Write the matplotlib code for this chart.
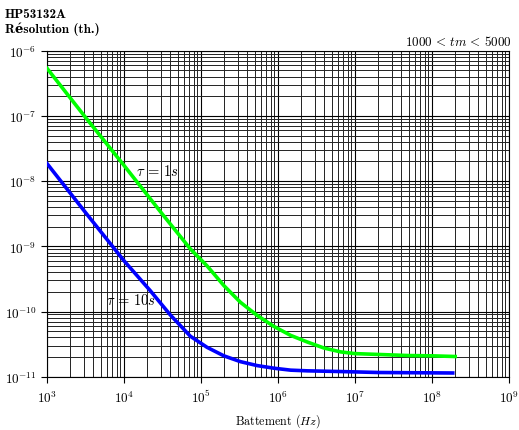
import matplotlib
matplotlib.use("Agg")
import matplotlib.pyplot as plt
import numpy as np
from matplotlib.ticker import LogLocator, NullFormatter

plt.rcParams['mathtext.fontset'] = 'cm'
plt.rcParams['font.family'] = ['cmr10', 'DejaVu Serif']
plt.rcParams['axes.formatter.use_mathtext'] = True

# values (Hz, resolution)
freq_1s = [1e3, 3160, 1e4, 31600, 72800, 120000, 198000, 326000, 537000,
           885000, 1.46e6, 2.41e6, 3.96e6, 6.53e6, 1e7, 2.1e7, 5e7, 1e8, 2e8]
res_1s = [5.37e-7, 9.5e-8, 1.74e-8, 3.1e-9, 9.1e-10, 5.0e-10, 2.5e-10, 1.38e-10,
          8.7e-11, 5.9e-11, 4.3e-11, 3.4e-11, 2.75e-11, 2.4e-11, 2.26e-11,
          2.19e-11, 2.11e-11, 2.09e-11, 2.04e-11]

freq_10s = [1e3, 3160, 1e4, 21900, 39800, 72800, 120000, 198000, 326000,
            537000, 885000, 1.46e6, 2.41e6, 6.53e6, 2e7, 1.86e8]
res_10s = [1.86e-8, 3.3e-9, 6.0e-10, 2.09e-10, 8.9e-11, 4.17e-11, 2.82e-11,
           2.09e-11, 1.70e-11, 1.48e-11, 1.35e-11, 1.26e-11, 1.23e-11, 1.20e-11,
           1.16e-11, 1.14e-11]

fig = plt.figure(figsize=(5.19, 4.31), dpi=100)
ax = fig.add_axes([47 / 519, 1 - 377.7 / 431, 462 / 519, 326 / 431])

ax.set_xscale('log')
ax.set_yscale('log')
ax.set_xlim(1e3, 1e9)
ax.set_ylim(1e-11, 1e-6)

ax.xaxis.set_major_locator(LogLocator(base=10, numticks=20))
ax.yaxis.set_major_locator(LogLocator(base=10, numticks=20))
ax.xaxis.set_minor_locator(LogLocator(base=10, subs=np.arange(2, 10), numticks=20))
ax.yaxis.set_minor_locator(LogLocator(base=10, subs=np.arange(2, 10), numticks=20))
ax.xaxis.set_minor_formatter(NullFormatter())
ax.yaxis.set_minor_formatter(NullFormatter())

ax.grid(True, which='major', color='black', lw=0.8)
ax.grid(True, which='minor', color='#222222', lw=0.7)
ax.tick_params(which='major', direction='out', length=4, width=0.8, labelsize=9.5,
               top=False, right=False)
ax.tick_params(axis='x', which='major', pad=5)
ax.tick_params(which='minor', length=0)
for s in ax.spines.values():
    s.set_linewidth(0.8)

ax.plot(freq_1s, res_1s, color='#00ff00', lw=2.6, zorder=3)
ax.plot(freq_10s, res_10s, color='#0000ff', lw=2.6, zorder=3)

ax.text(10 ** 4.43, 10 ** -7.83, r'$\tau\,=\,1s$', fontsize=10.5, ha='center', va='center', zorder=4)
ax.text(10 ** 4.09, 10 ** -9.82, r'$\tau\,=\,10s$', fontsize=10.5, ha='center', va='center', zorder=4)

fig.text((47 + 231) / 519, 1 - 421 / 431, r'Battement ($Hz$)', fontsize=8.7,
         ha='center', va='center')
fig.text(512 / 519, 1 - 42 / 431, r'$1000\,<\,tm\,<\,5000$', ha='right',
         va='center', fontsize=9.4)

fig.text(5 / 519, 1 - 15.5 / 431, 'HP53132A', fontsize=9.5, fontweight='bold',
         family=['cmb10', 'DejaVu Serif'], va='center', ha='left')
fig.text(5 / 519, 1 - 29.5 / 431, 'Résolution (th.)', fontsize=9.5, fontweight='bold',
         family=['cmb10', 'DejaVu Serif'], va='center', ha='left')

fig.savefig('out.png', dpi=100)
